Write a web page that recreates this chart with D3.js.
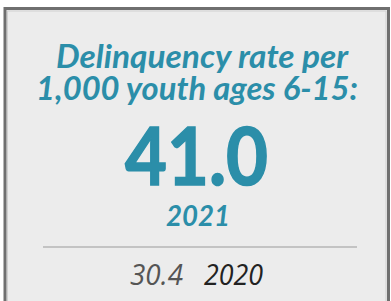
<!DOCTYPE html>
<html><head><meta charset="utf-8">
<script src="https://cdn.jsdelivr.net/npm/d3@7"></script>
<style>html,body{margin:0;padding:0;background:#fff;}svg{display:block;}</style>
</head><body>
<script>
const titleLines = ["Delinquency rate per", "1,000 youth ages 6-15:"];
const years = ["2021", "2020"];
const values = [41.0, 30.4];

const W = 391, H = 301;
const svg = d3.select("body").append("svg").attr("width", W).attr("height", H);

// card
svg.append("rect").attr("x", 0).attr("y", 0).attr("width", W).attr("height", H).attr("fill", "#ffffff");
svg.append("rect").attr("x", 5).attr("y", 8.5).attr("width", 383.5).attr("height", 300)
  .attr("fill", "#ececec").attr("stroke", "#6f6f6f").attr("stroke-width", 3);
svg.append("rect").attr("x", 7.5).attr("y", 11).attr("width", 378.5).attr("height", 295)
  .attr("fill", "none").attr("stroke", "#d0d0d0").attr("stroke-width", 1);

const teal = "#2b8ea9";

function sized(t, target) {
  t.attr("textLength", target).attr("lengthAdjust", "spacingAndGlyphs");
}

// title
const titleSpecs = [{y: 68, x: 56, w: 292}, {y: 100, x: 36, w: 322}];
titleLines.forEach((line, i) => {
  const t = svg.append("text").text(line)
    .attr("x", titleSpecs[i].x).attr("y", titleSpecs[i].y)
    .attr("font-family", "Lato, 'Open Sans', sans-serif")
    .attr("font-weight", 700).attr("font-style", "italic")
    .attr("font-size", 32).attr("fill", teal);
  sized(t, titleSpecs[i].w);
});

const fmt = d3.format(".1f");

// main value
const big = svg.append("text").text(fmt(values[0]))
  .attr("x", 125).attr("y", 185)
  .attr("font-family", "Lato, 'Open Sans', sans-serif")
  .attr("font-weight", 700).attr("font-size", 80).attr("fill", teal)
  .attr("stroke", teal).attr("stroke-width", 1.5);
sized(big, 143);

// year
const yr = svg.append("text").text(years[0])
  .attr("x", 166).attr("y", 226)
  .attr("font-family", "Lato, 'Open Sans', sans-serif")
  .attr("font-weight", 700).attr("font-style", "italic")
  .attr("font-size", 28).attr("fill", teal);
sized(yr, 64);

// divider
svg.append("line").attr("x1", 43).attr("x2", 357).attr("y1", 247).attr("y2", 247)
  .attr("stroke", "#9a9a9a").attr("stroke-width", 1.2);

// comparison
const prev = svg.append("text").text(fmt(values[1]))
  .attr("x", 130).attr("y", 285)
  .attr("font-family", "'Open Sans', 'Noto Sans', sans-serif")
  .attr("font-style", "italic").attr("font-weight", 400)
  .attr("font-size", 29).attr("fill", "#555555");
sized(prev, 53);
const prevYr = svg.append("text").text(years[1])
  .attr("x", 204).attr("y", 285)
  .attr("font-family", "'Open Sans', 'Noto Sans', sans-serif")
  .attr("font-style", "italic").attr("font-weight", 400)
  .attr("font-size", 29).attr("fill", "#222222");
sized(prevYr, 59);
</script>
</body></html>
